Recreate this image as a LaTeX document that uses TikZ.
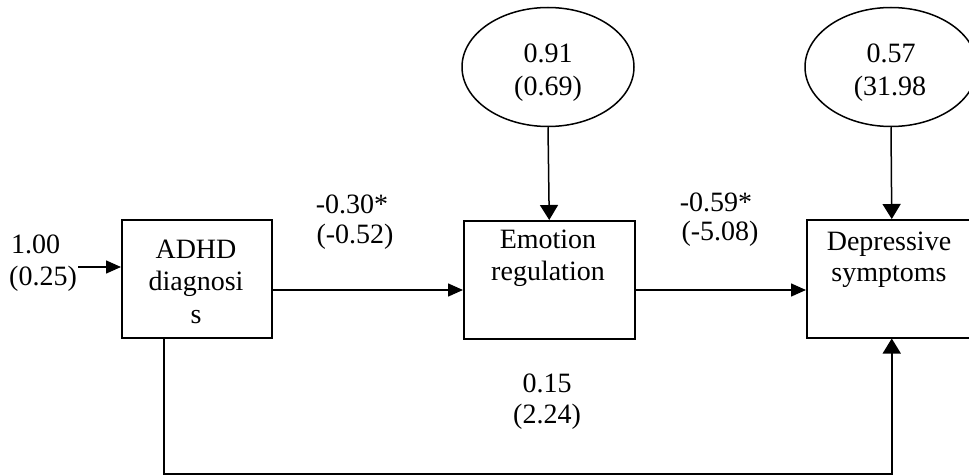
\documentclass[tikz,border=0pt]{standalone}
\usepackage{fontspec}
\setmainfont{Liberation Serif}
\usetikzlibrary{arrows.meta,shapes.geometric}
\begin{document}
\begin{tikzpicture}[x=1pt,y=-1pt,
  every node/.style={font=\fontsize{28}{33}\selectfont},
  box/.style={draw, line width=1.5pt, inner sep=0pt, anchor=north west, minimum height=118pt},
  ell/.style={draw, ellipse, line width=1.5pt, inner sep=0pt, minimum width=172pt, minimum height=119pt},
  txt/.style={anchor=base, inner sep=0pt},
  ltxt/.style={anchor=base west, inner sep=0pt},
  harr/.style={line width=1.5pt, -{Triangle[length=15pt,width=13pt]}},
  varr/.style={line width=1.5pt, -{Triangle[length=15pt,width=18pt]}}
]
\useasboundingbox (0,0) rectangle (969,476);

% boxes
\node[box, minimum width=150pt] (adhd) at (121,219) {};
\node[box, minimum width=171pt] (emo) at (463,220) {};
\node[box, minimum width=170pt] (dep) at (806,219) {};

% ellipses
\node[ell] (e1) at (548,67) {};
\node[ell] (e2) at (891,67) {};

% texts in boxes
\node[txt] (t1) at (196,258) {ADHD};
\node[txt] (t2) at (196,290) {diagnosi};
\node[txt] (t3) at (196,323) {s};
\node[txt] (t4) at (548,248) {Emotion};
\node[txt] (t5) at (548,280) {regulation};
\node[txt] (t6) at (889,250) {Depressive};
\node[txt] (t7) at (889,281) {symptoms};

% texts in ellipses
\node[txt] (t8) at (548,63) {0.91};
\node[txt] (t9) at (548,96) {(0.69)};
\node[txt] (t10) at (891,63) {0.57};
\node[txt] (t11) at (890,96) {(31.98};

% path labels
\node[ltxt] (l1) at (11,253) {1.00};
\node[ltxt] (l2) at (9,285) {(0.25)};
\node[txt] (l3) at (352,213) {-0.30*};
\node[txt] (l4) at (355,243) {(-0.52)};
\node[txt] (l5) at (716,211) {-0.59*};
\node[txt] (l6) at (720,240) {(-5.08)};
\node[txt] (l7) at (547,392) {0.15};
\node[txt] (l8) at (547,423) {(2.24)};

% connectors
\coordinate (ymid) at (0,290);
\coordinate (s0) at (78,267);
\coordinate (bl) at (164,474);

\draw[varr] (e1.south) -- (emo.north);
\draw[varr] (e2.south) -- (dep.north);
\draw[harr] (adhd.east |- ymid) -- (emo.west |- ymid);
\draw[harr] (emo.east |- ymid) -- (dep.west |- ymid);
\draw[harr] (s0) -- (adhd.west |- s0);
\draw[varr] (adhd.south -| bl) -- (bl) -- (bl -| dep.south) -- (dep.south);
\end{tikzpicture}
\end{document}
